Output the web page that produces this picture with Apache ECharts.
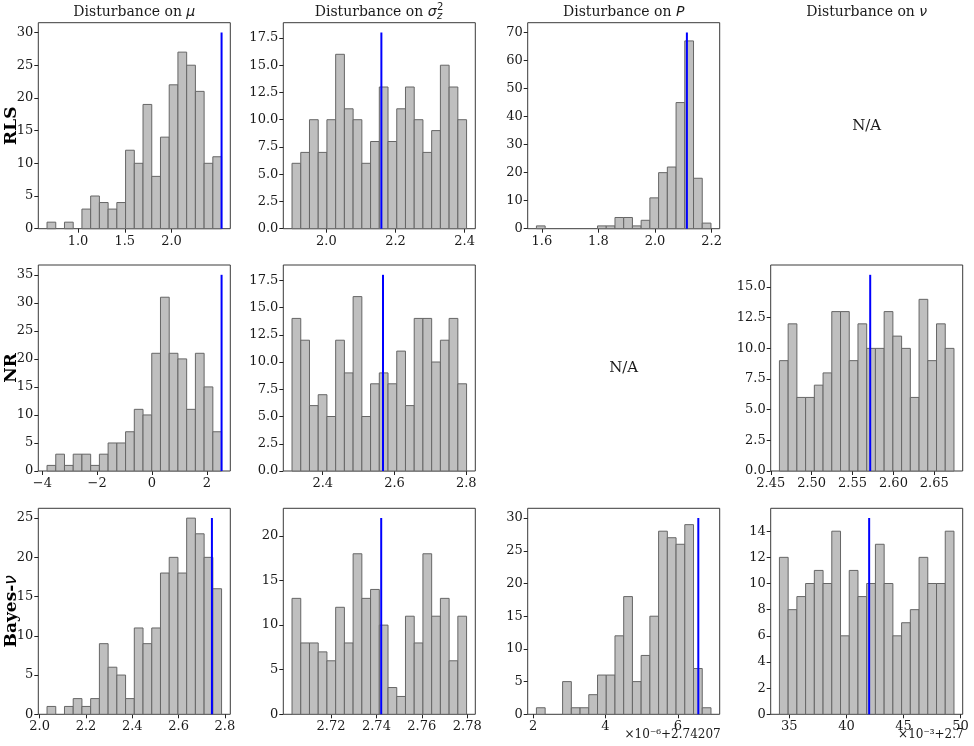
<!DOCTYPE html>
<html>
<head>
<meta charset="utf-8">
<script src="https://cdn.jsdelivr.net/npm/echarts@6/dist/echarts.min.js"></script>
<style>
  html, body { margin: 0; padding: 0; background: #fff; }
  #main { width: 974px; height: 746px; }
</style>
</head>
<body>
<div id="main"></div>
<script>
// histogram counts, 20 bins per panel
var rlsMuCounts  = [1,0,1,0,3,5,4,3,4,12,10,19,8,14,22,27,25,21,10,11];
var rlsSigCounts = [6,7,10,7,10,16,11,10,6,8,13,8,11,13,10,7,9,15,13,10];
var rlsPCounts   = [1,0,0,0,0,0,0,1,1,4,4,1,3,11,20,22,45,67,18,2];
var nrMuCounts   = [1,3,1,3,3,1,3,5,5,7,11,10,21,31,21,20,11,21,15,7];
var nrSigCounts  = [14,12,6,7,5,12,9,16,5,8,9,8,11,6,14,14,10,12,14,8];
var nrNuCounts   = [9,12,6,6,7,8,13,13,9,12,10,10,13,11,10,6,14,9,12,10];
var bMuCounts    = [1,0,1,2,1,2,9,6,5,2,11,9,11,18,20,18,25,23,20,16];
var bSigCounts   = [13,8,8,7,6,12,8,18,13,14,10,3,2,11,8,18,11,13,6,11];
var bPCounts     = [1,0,0,5,1,1,3,6,6,12,18,5,9,15,28,27,26,29,7,1];
var bNuCounts    = [12,8,9,10,11,10,14,6,11,9,10,13,10,6,7,8,12,10,10,14];

// panel order: RLS mu, RLS sigma, RLS P, NR mu, NR sigma, NR nu, Bayes mu, Bayes sigma, Bayes P, Bayes nu
var panelRow = [0,0,0,1,1,1,2,2,2,2];
var panelCol = [0,1,2,0,1,3,0,1,2,3];
var binStart = [0.668, 1.9005, 1.5808, -3.83, 2.3144, 2.4606, 2.0317, 2.7028, 2.092, 34.13];
var binWidth = [0.0934, 0.02525, 0.03084, 0.3185, 0.02433, 0.010672, 0.0377, 0.003846, 0.2413, 0.7645];
var trueValue = [2.536, 2.159, 2.1125, 2.54, 2.568, 2.5716, 2.744, 2.7421, 6.568, 41.99];
var lineTop = [30, 18, 70, 35, 18, 16, 25, 22, 30, 15];

var xTicks = [
  [1.0, 1.5, 2.0], [2.0, 2.2, 2.4], [1.6, 1.8, 2.0, 2.2],
  [-4, -2, 0, 2], [2.4, 2.6, 2.8], [2.45, 2.50, 2.55, 2.60, 2.65],
  [2.0, 2.2, 2.4, 2.6, 2.8], [2.72, 2.74, 2.76, 2.78], [2, 4, 6], [35, 40, 45, 50]
];
var xDecimals = [1, 1, 1, 0, 1, 2, 1, 2, 0, 0];
var yTicks = [
  [0,5,10,15,20,25,30], [0,2.5,5,7.5,10,12.5,15,17.5], [0,10,20,30,40,50,60,70],
  [0,5,10,15,20,25,30,35], [0,2.5,5,7.5,10,12.5,15,17.5], [0,2.5,5,7.5,10,12.5,15],
  [0,5,10,15,20,25], [0,5,10,15,20], [0,5,10,15,20,25,30], [0,2,4,6,8,10,12,14]
];
var yDecimals = [0, 1, 0, 0, 1, 1, 0, 0, 0, 0];

var colTitles = ['μ', 'σ', 'P', 'ν'];
var rowNames = ['RLS', 'NR', 'Bayes-'];
var offsetTexts = [[8, '×10⁻⁶+2.74207'], [9, '×10⁻³+2.7']];

var allCounts = [rlsMuCounts, rlsSigCounts, rlsPCounts, nrMuCounts, nrSigCounts,
                 nrNuCounts, bMuCounts, bSigCounts, bPCounts, bNuCounts];

// layout of the axes frames
var colLeft = [38.3, 283.3, 527.7, 770.7];
var rowTop = [22.7, 265, 508.3];
var frameW = 192, frameH = 206;

var SERIF = '"DejaVu Serif", "Liberation Serif", serif';
var MATH = '"DejaVu Sans", sans-serif';
var ink = '#1a1a1a';

function fmt(v, d) {
  var s = v.toFixed(d);
  return s.charAt(0) === '-' ? '\u2212' + s.slice(1) : s;
}

var grids = [], xAxes = [], yAxes = [], series = [];

allCounts.forEach(function (counts, k) {
  var lo = binStart[k], w = binWidth[k];
  var hi = lo + w * counts.length;
  var dmin = Math.min(lo, trueValue[k]), dmax = Math.max(hi, trueValue[k]);
  var pad = 0.05 * (dmax - dmin);
  var ymax = 1.05 * Math.max(Math.max.apply(null, counts), lineTop[k]);

  grids.push({
    left: colLeft[panelCol[k]], top: rowTop[panelRow[k]],
    width: frameW, height: frameH,
    show: true, borderColor: '#3a3a3a', borderWidth: 1,
    backgroundColor: 'transparent', containLabel: false, outerBoundsMode: 'none'
  });
  xAxes.push({
    type: 'value', gridIndex: k, min: dmin - pad, max: dmax + pad,
    axisLine: { show: false, onZero: false },
    splitLine: { show: false },
    axisTick: { show: true, length: 4, customValues: xTicks[k], lineStyle: { color: '#222' } },
    axisLabel: {
      customValues: xTicks[k], margin: 6, color: ink, fontFamily: SERIF, fontSize: 13,
      formatter: (function (d) { return function (v) { return fmt(v, d); }; })(xDecimals[k])
    }
  });
  yAxes.push({
    type: 'value', gridIndex: k, min: 0, max: ymax,
    axisLine: { show: false, onZero: false },
    splitLine: { show: false },
    axisTick: { show: true, length: 4, customValues: yTicks[k], lineStyle: { color: '#222' } },
    axisLabel: {
      customValues: yTicks[k], margin: 5, color: ink, fontFamily: SERIF, fontSize: 13,
      formatter: (function (d) { return function (v) { return fmt(v, d); }; })(yDecimals[k])
    }
  });

  var bins = counts.map(function (c, i) { return [lo + i * w, lo + (i + 1) * w, c]; });
  series.push({
    type: 'custom', xAxisIndex: k, yAxisIndex: k, data: bins,
    encode: { x: [0, 1], y: 2 }, silent: true,
    renderItem: function (params, api) {
      var n = api.value(2);
      if (!n) return;
      var p0 = api.coord([api.value(0), 0]);
      var p1 = api.coord([api.value(1), n]);
      return {
        type: 'rect',
        shape: { x: p0[0], y: p1[1], width: p1[0] - p0[0], height: p0[1] - p1[1] },
        style: { fill: '#bfbfbf', stroke: '#666666', lineWidth: 1 }
      };
    }
  });
  series.push({
    type: 'line', xAxisIndex: k, yAxisIndex: k, silent: true, z: 5,
    data: [[trueValue[k], 0], [trueValue[k], lineTop[k]]],
    showSymbol: false, symbol: 'none',
    lineStyle: { color: '#0000ff', width: 2 }
  });
});

// text: column titles, row labels, N/A, offsets
var ctx = document.createElement('canvas').getContext('2d');
function textW(str, font) { ctx.font = font; return ctx.measureText(str).width; }

var graphics = [];
var titleSize = 14;
colTitles.forEach(function (sym, c) {
  var cx = colLeft[c] + frameW / 2, cy = 12;
  var w1 = textW('Disturbance on ', titleSize + 'px ' + SERIF);
  var w2 = textW(sym, 'italic ' + titleSize + 'px ' + MATH);
  var w3 = sym === 'σ' ? textW('2', 'italic 10px ' + MATH) + 1 : 0;
  var x0 = cx - (w1 + w2 + w3) / 2;
  graphics.push({
    type: 'text', x: x0, y: cy, silent: true,
    style: {
      text: '{n|Disturbance on }{m|' + sym + '}',
      align: 'left', verticalAlign: 'middle', textAlign: 'left', textVerticalAlign: 'middle',
      rich: {
        n: { fontFamily: SERIF, fontSize: titleSize, fill: ink, color: ink },
        m: { fontFamily: MATH, fontStyle: 'italic', fontSize: titleSize, fill: ink, color: ink }
      }
    }
  });
  if (sym === 'σ') {
    graphics.push({
      type: 'text', x: x0 + w1 + w2 + 0.5, y: cy - 5, silent: true,
      style: { text: '2', fontFamily: MATH, fontSize: 10, fill: ink,
               align: 'left', verticalAlign: 'middle', textAlign: 'left', textVerticalAlign: 'middle' }
    });
    graphics.push({
      type: 'text', x: x0 + w1 + w2 + 0.5, y: cy + 4, silent: true,
      style: { text: 'z', fontFamily: MATH, fontStyle: 'italic', fontSize: 10, fill: ink,
               align: 'left', verticalAlign: 'middle', textAlign: 'left', textVerticalAlign: 'middle' }
    });
  }
});

rowNames.forEach(function (name, r) {
  var txt = r === 2 ? '{b|' + name + '}{m|ν}' : '{b|' + name + '}';
  graphics.push({
    type: 'text', x: 12, y: rowTop[r] + frameH / 2, rotation: Math.PI / 2, silent: true,
    style: {
      text: txt, align: 'center', verticalAlign: 'middle', textAlign: 'center', textVerticalAlign: 'middle',
      rich: {
        b: { fontFamily: SERIF, fontWeight: 'bold', fontSize: 17, fill: '#000', color: '#000' },
        m: { fontFamily: MATH, fontStyle: 'italic', fontSize: 17, fill: '#000', color: '#000' }
      }
    }
  });
});

[[3, 0], [2, 1]].forEach(function (cr) {
  graphics.push({
    type: 'text', x: colLeft[cr[0]] + frameW / 2, y: rowTop[cr[1]] + frameH / 2, silent: true,
    style: { text: 'N/A', fontFamily: SERIF, fontSize: 15, fill: ink,
             align: 'center', verticalAlign: 'middle', textAlign: 'center', textVerticalAlign: 'middle' }
  });
});

offsetTexts.forEach(function (o) {
  var k = o[0];
  graphics.push({
    type: 'text', x: colLeft[panelCol[k]] + frameW + 1, y: rowTop[panelRow[k]] + frameH + 21, silent: true,
    style: { text: o[1], fontFamily: SERIF, fontSize: 12, fill: ink,
             align: 'right', verticalAlign: 'middle', textAlign: 'right', textVerticalAlign: 'middle' }
  });
});

var chart = echarts.init(document.getElementById('main'));
chart.setOption({
  animation: false,
  backgroundColor: '#fff',
  grid: grids,
  xAxis: xAxes,
  yAxis: yAxes,
  series: series,
  graphic: graphics
});
</script>
</body>
</html>
